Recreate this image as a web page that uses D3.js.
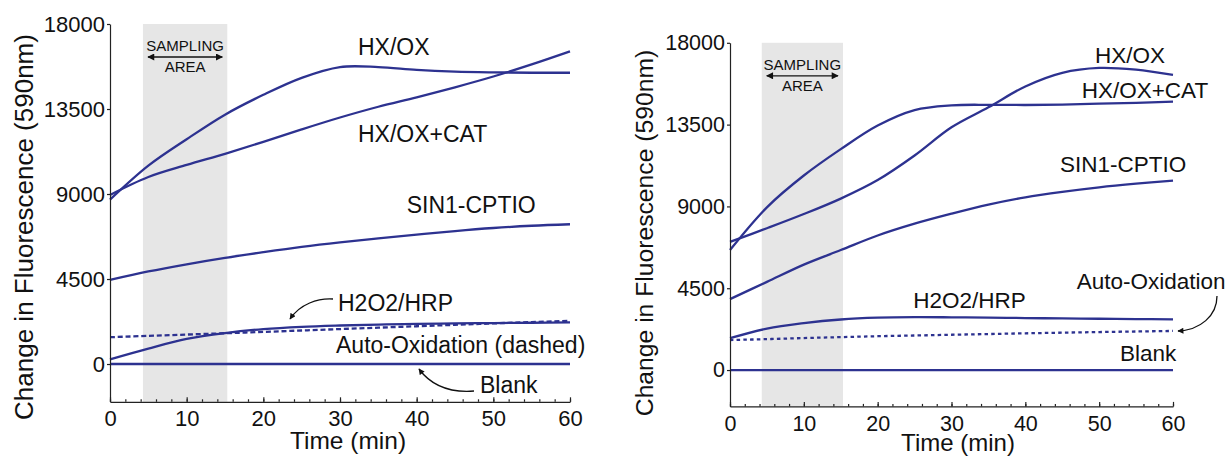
<!DOCTYPE html>
<html>
<head>
<meta charset="utf-8">
<script src="https://cdn.jsdelivr.net/npm/d3@7"></script>
<style>
  body { margin: 0; background: #fff; }
  svg { display: block; font-family: "Liberation Sans", Arial, Helvetica, sans-serif; }
</style>
</head>
<body>
<svg id="chart" width="1229" height="456"></svg>
<script>
// sampled every 5 min
var time = [0, 5, 10, 15, 20, 25, 30, 35, 40, 45, 50, 55, 60];
var xTicks = [0, 10, 20, 30, 40, 50, 60];
var xMinorTicks = d3.range(0, 61, 2);
var yTicks = [0, 4500, 9000, 13500, 18000];
var yDomain = [-2000, 18000];
var samplingWindow = [4.3, 15.3];

// left panel
var leftHxOx    = [8700, 10500, 11900, 13200, 14250, 15150, 15720, 15720, 15570, 15480, 15440, 15420, 15420];
var leftHxOxCat = [8950, 9900, 10540, 11130, 11760, 12420, 13050, 13620, 14120, 14650, 15220, 15860, 16550];
var leftSin1    = [4450, 4900, 5280, 5620, 5920, 6200, 6440, 6650, 6850, 7040, 7200, 7320, 7400];
var leftH2o2    = [250, 820, 1330, 1640, 1850, 1970, 2040, 2090, 2120, 2150, 2170, 2185, 2200];
var leftAutoOx  = [1420, 1490, 1560, 1630, 1700, 1775, 1850, 1925, 2000, 2075, 2150, 2220, 2290];
var leftBlank   = [0, 0, 0, 0, 0, 0, 0, 0, 0, 0, 0, 0, 0];

// right panel
var rightHxOx    = [7050, 7800, 8580, 9430, 10450, 11800, 13350, 14450, 15600, 16350, 16620, 16520, 16230];
var rightHxOxCat = [6600, 8950, 10700, 12150, 13450, 14300, 14560, 14590, 14580, 14600, 14650, 14700, 14760];
var rightSin1    = [3900, 4850, 5800, 6600, 7400, 8050, 8600, 9100, 9500, 9800, 10050, 10250, 10420];
var rightH2o2    = [1750, 2280, 2580, 2780, 2880, 2910, 2900, 2880, 2860, 2840, 2820, 2800, 2790];
var rightAutoOx  = [1650, 1700, 1760, 1810, 1860, 1900, 1940, 1980, 2020, 2055, 2090, 2120, 2150];
var rightBlank   = [0, 0, 0, 0, 0, 0, 0, 0, 0, 0, 0, 0, 0];

var lineColor = "#2d3290";
var ink = "#111";

var svg = d3.select("#chart");
var defs = svg.append("defs");

function addHead(id, w, h) {
    defs.append("marker")
        .attr("id", id)
        .attr("viewBox", "0 0 10 10")
        .attr("refX", 9).attr("refY", 5)
        .attr("markerWidth", w).attr("markerHeight", h)
        .attr("markerUnits", "userSpaceOnUse")
        .attr("orient", "auto-start-reverse")
        .append("path")
        .attr("d", "M0,0L10,5L0,10Z")
        .attr("fill", ink);
}
addHead("bigHead", 9, 7);
addHead("smallHead", 7, 6);

function drawPanel(p) {
    var x = d3.scaleLinear().domain([0, 60]).range([p.left, p.right]);
    var y = d3.scaleLinear().domain(yDomain).range([p.bottom, p.top]);
    var g = svg.append("g");

    // sampling area
    var sx0 = x(samplingWindow[0]), sx1 = x(samplingWindow[1]);
    g.append("rect")
        .attr("x", sx0).attr("y", y(18000))
        .attr("width", sx1 - sx0).attr("height", y(yDomain[0]) - y(18000))
        .attr("fill", "#e6e6e6");
    var cx = (sx0 + sx1) / 2;
    g.append("text").attr("x", cx).attr("y", y(18000) + 27)
        .attr("text-anchor", "middle").attr("font-size", 15).attr("fill", ink)
        .text("SAMPLING");
    g.append("line")
        .attr("x1", sx0 + 5).attr("x2", sx1 - 5)
        .attr("y1", y(18000) + 33).attr("y2", y(18000) + 33)
        .attr("stroke", ink).attr("stroke-width", 1.3)
        .attr("marker-start", "url(#bigHead)").attr("marker-end", "url(#bigHead)");
    g.append("text").attr("x", cx).attr("y", y(18000) + 48)
        .attr("text-anchor", "middle").attr("font-size", 15).attr("fill", ink)
        .text("AREA");

    // curves
    var line = d3.line()
        .x(function(d, i) { return x(time[i]); })
        .y(function(d) { return y(d); })
        .curve(d3.curveCatmullRom.alpha(0.5));
    p.series.forEach(function(s) {
        g.append("path")
            .attr("d", line(s.values))
            .attr("fill", "none")
            .attr("stroke", lineColor)
            .attr("stroke-width", 2.3)
            .attr("stroke-dasharray", s.dashed ? p.dash : null);
    });

    // axes
    var xAxis = g.append("g").attr("transform", "translate(0," + y(yDomain[0]) + ")")
        .call(d3.axisBottom(x).tickValues(xMinorTicks).tickSize(-2.5).tickSizeOuter(0).tickFormat(""));
    xAxis.selectAll("path,line").attr("stroke", "#222").attr("stroke-width", 1.2);

    var xMajor = g.append("g").attr("transform", "translate(0," + y(yDomain[0]) + ")")
        .call(d3.axisBottom(x).tickValues(xTicks).tickSize(-4.5).tickSizeOuter(0).tickFormat(d3.format("d")));
    xMajor.select(".domain").remove();
    xMajor.selectAll("line").attr("stroke", "#222").attr("stroke-width", 1.2);
    xMajor.selectAll("text").attr("y", 9).attr("dy", "0.71em")
        .attr("font-size", p.tickFont).attr("font-family", null).attr("fill", ink);

    var yAxis = g.append("g").attr("transform", "translate(" + p.left + ",0)")
        .call(d3.axisLeft(y).tickValues(yTicks).tickSize(3).tickPadding(2).tickSizeOuter(0).tickFormat(d3.format("d")));
    yAxis.selectAll("path,line").attr("stroke", "#222").attr("stroke-width", 1.2);
    yAxis.selectAll("text").attr("font-size", p.tickFont).attr("font-family", null).attr("fill", ink);

    // axis titles
    g.append("text")
        .attr("transform", "translate(" + p.yTitleX + "," + p.yTitleY + ") rotate(-90)")
        .attr("text-anchor", "middle").attr("font-size", p.yTitleFont).attr("fill", ink)
        .text("Change in Fluorescence (590nm)");
    g.append("text")
        .attr("x", p.xTitleX).attr("y", p.xTitleY)
        .attr("text-anchor", "middle").attr("font-size", p.xTitleFont).attr("fill", ink)
        .text("Time (min)");

    // curve labels
    p.labels.forEach(function(l) {
        g.append("text").attr("x", l[1]).attr("y", l[2])
            .attr("font-size", p.labelFont).attr("fill", ink)
            .text(l[0]);
    });
    p.arrows.forEach(function(a) {
        g.append("path").attr("d", a)
            .attr("fill", "none").attr("stroke", ink).attr("stroke-width", 1.3)
            .attr("marker-end", "url(#smallHead)");
    });
}

drawPanel({
    left: 110, right: 570, top: 24, bottom: 401.8,
    dash: "5,2.8",
    tickFont: 22, labelFont: 23,
    yTitleX: 33, yTitleY: 227, yTitleFont: 26,
    xTitleX: 348, xTitleY: 449, xTitleFont: 24.5,
    series: [
        { values: leftHxOx },
        { values: leftHxOxCat },
        { values: leftSin1 },
        { values: leftH2o2 },
        { values: leftAutoOx, dashed: true },
        { values: leftBlank }
    ],
    labels: [
        ["HX/OX", 358, 55],
        ["HX/OX+CAT", 358, 141.7],
        ["SIN1-CPTIO", 406.7, 213.3],
        ["H2O2/HRP", 338, 310.7],
        ["Auto-Oxidation (dashed)", 336, 353.3],
        ["Blank", 480, 393.3]
    ],
    arrows: [
        "M333,299 C318,298 300,304 290,319",
        "M474,391 C448,393 430,384 419,369"
    ]
});

drawPanel({
    left: 730, right: 1173, top: 42.8, bottom: 406.4,
    dash: "3.5,3.2",
    tickFont: 21.5, labelFont: 22.5,
    yTitleX: 653, yTitleY: 233, yTitleFont: 24.7,
    xTitleX: 958, xTitleY: 450.5, xTitleFont: 24,
    series: [
        { values: rightHxOx },
        { values: rightHxOxCat },
        { values: rightSin1 },
        { values: rightH2o2 },
        { values: rightAutoOx, dashed: true },
        { values: rightBlank }
    ],
    labels: [
        ["HX/OX", 1095, 63.3],
        ["HX/OX+CAT", 1081.7, 98.3],
        ["SIN1-CPTIO", 1060, 171.7],
        ["H2O2/HRP", 913.3, 308.3],
        ["Auto-Oxidation", 1076.7, 289.3],
        ["Blank", 1120, 361]
    ],
    arrows: [
        "M1217,296 C1217,316 1200,330 1178,331"
    ]
});
</script>
</body>
</html>
